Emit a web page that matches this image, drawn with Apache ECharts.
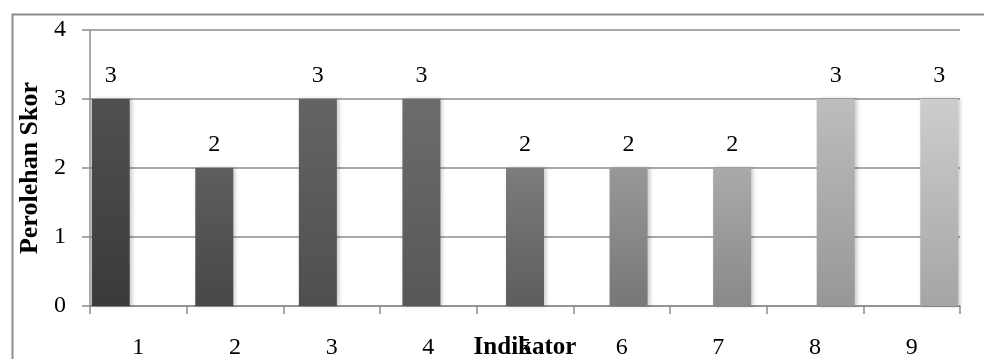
<!DOCTYPE html>
<html>
<head>
<meta charset="utf-8">
<script src="https://cdn.jsdelivr.net/npm/echarts@6/dist/echarts.min.js"></script>
<style>
html,body{margin:0;padding:0;background:#fff;}
#chart{width:984px;height:359px;}
</style>
</head>
<body>
<div id="chart"></div>
<script>
// data
const indikator = ['1','2','3','4','5','6','7','8','9'];
const skor = [3, 2, 3, 3, 2, 2, 2, 3, 3];
const yTicks = [0, 1, 2, 3, 4];

// grey shades per bar (top -> bottom)
const warnaAtas = ['#505050','#5e5e5e','#646464','#6c6c6c','#7c7c7c','#989898','#aaaaaa','#bdbdbd','#cdcdcd'];
const warnaBawah = ['#3a3a3a','#474747','#4f4f4f','#575757','#5d5d5d','#777777','#898989','#979797','#a5a5a5'];

const serif = 'Liberation Serif';
const chart = echarts.init(document.getElementById('chart'));

const barData = skor.map((v, i) => ({
  value: [i, v],
  itemStyle: {
    color: new echarts.graphic.LinearGradient(0, 0, 0, 1, [
      {offset: 0, color: warnaAtas[i]},
      {offset: 1, color: warnaBawah[i]}
    ])
  }
}));

const option = {
  animation: false,
  backgroundColor: '#fff',
  graphic: [{
    type: 'rect',
    left: 10, top: 12,
    shape: {width: 1000, height: 400},
    style: {fill: 'none', stroke: '#8c8c8c', lineWidth: 2}
  }],
  grid: {left: 90, right: 24, top: 30, bottom: 53, containLabel: false, outerBoundsMode: 'none'},
  xAxis: [{
    type: 'category',
    data: indikator,
    name: 'Indikator',
    nameLocation: 'middle',
    nameGap: 29,
    nameMoveOverlap: false,
    nameTextStyle: {fontFamily: serif, fontWeight: 'bold', fontSize: 25, color: '#000'},
    axisLine: {lineStyle: {color: '#8c8c8c', width: 1.5}},
    axisTick: {show: true, length: 8, lineStyle: {color: '#8c8c8c', width: 1.5}},
    axisLabel: {fontFamily: serif, fontSize: 24, color: '#000', margin: 30},
    splitLine: {show: false}
  }, {
    type: 'value',
    min: -0.2,
    max: 8.2,
    show: false
  }],
  yAxis: {
    type: 'value',
    min: yTicks[0],
    max: yTicks[yTicks.length - 1],
    interval: 1,
    name: 'Perolehan Skor',
    nameLocation: 'middle',
    nameGap: 46,
    nameRotate: 90,
    nameTextStyle: {fontFamily: serif, fontWeight: 'bold', fontSize: 26, color: '#000'},
    axisLine: {show: true, onZero: false, lineStyle: {color: '#8c8c8c', width: 1.5}},
    axisTick: {show: true, length: 8, lineStyle: {color: '#8c8c8c', width: 1.5}},
    axisLabel: {fontFamily: serif, fontSize: 24, color: '#000', margin: 24},
    splitLine: {show: true, lineStyle: {color: '#8c8c8c', width: 1.5}}
  },
  series: [{
    type: 'bar',
    xAxisIndex: 1,
    barWidth: 38,
    data: barData,
    itemStyle: {
      shadowColor: 'rgba(0,0,0,0.22)',
      shadowBlur: 4,
      shadowOffsetX: 2
    },
    label: {
      show: true,
      position: 'top',
      distance: 11,
      fontFamily: serif,
      fontSize: 24,
      color: '#000',
      formatter: p => p.value[1]
    }
  }]
};

chart.setOption(option);
window.addEventListener('resize', () => chart.resize());
</script>
</body>
</html>
